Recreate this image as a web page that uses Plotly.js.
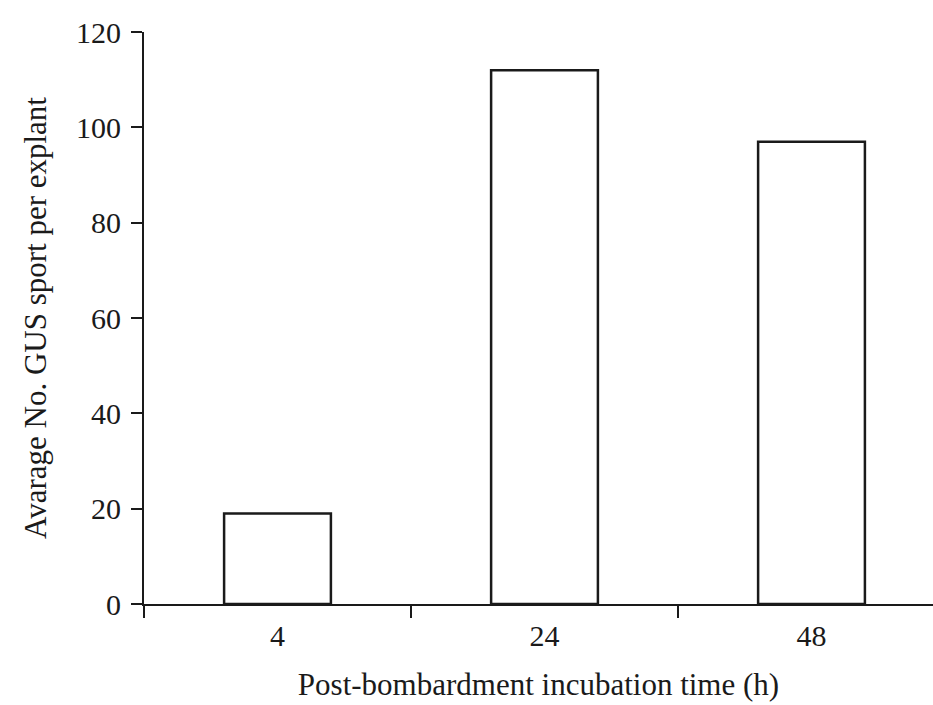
<!DOCTYPE html>
<html>
<head>
<meta charset="utf-8">
<script src="https://cdn.plot.ly/plotly-3.0.1.min.js"></script>
<style>html,body{margin:0;padding:0;background:#fff;}#chart{width:933px;height:705px;}</style>
</head>
<body>
<div id="chart"></div>
<script>
var categories = ["4", "24", "48"];
var values = [19, 112, 97];
var yTicks = [0, 20, 40, 60, 80, 100, 120];
var xTitle = "Post-bombardment incubation time (h)";
var yTitle = "Avarage No. GUS sport per explant";

var font = "Liberation Serif, Times New Roman, serif";
var ink = "#1a1a1a";

var trace = {
  type: "bar",
  x: categories,
  y: values,
  width: 0.4,
  marker: {color: "#ffffff", line: {color: ink, width: 2.5}},
  hoverinfo: "skip"
};

var layout = {
  width: 933,
  height: 705,
  margin: {l: 144, r: 0, t: 32, b: 101},
  paper_bgcolor: "#ffffff",
  plot_bgcolor: "#ffffff",
  showlegend: false,
  font: {family: font, color: ink, size: 30},
  xaxis: {
    type: "category",
    range: [-0.5, 2.455],
    showline: true, linecolor: ink, linewidth: 2,
    showgrid: false, zeroline: false,
    ticks: "outside", ticklen: 12, tickwidth: 2, tickcolor: ink,
    tickson: "boundaries",
    ticklabelstandoff: 4,
    tickfont: {family: font, size: 30, color: ink},
    title: {text: xTitle, font: {family: font, size: 31, color: ink}, standoff: 22}
  },
  yaxis: {
    range: [0, 120],
    tickvals: yTicks,
    ticktext: yTicks.map(String),
    showline: true, linecolor: ink, linewidth: 2,
    showgrid: false, zeroline: false,
    ticks: "outside", ticklen: 11, tickwidth: 2, tickcolor: ink,
    ticklabelstandoff: 4,
    tickfont: {family: font, size: 30, color: ink},
    title: {text: yTitle, font: {family: font, size: 31, color: ink}, standoff: 20}
  }
};

Plotly.newPlot("chart", [trace], layout, {displayModeBar: false, staticPlot: true});
</script>
</body>
</html>
